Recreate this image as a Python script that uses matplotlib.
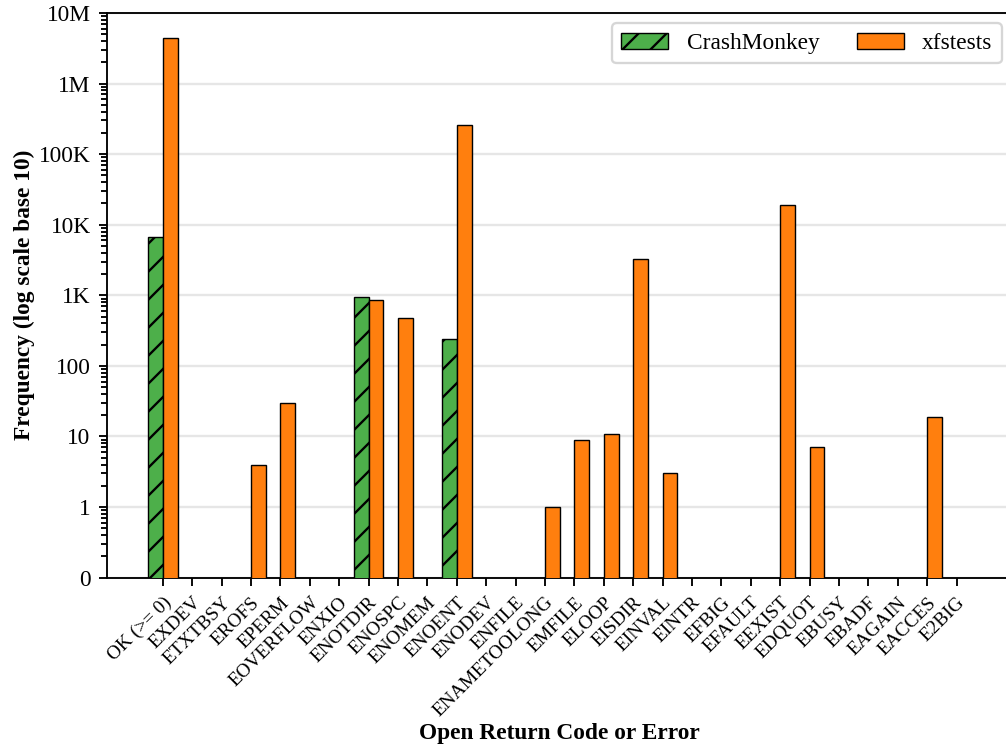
import numpy as np
import matplotlib
matplotlib.use("Agg")
import matplotlib.pyplot as plt
from matplotlib.ticker import FixedLocator, FixedFormatter, LogLocator, NullFormatter

plt.rcParams["font.family"] = ["Liberation Serif", "DejaVu Serif"]
plt.rcParams["hatch.linewidth"] = 1.0

codes = ["OK (>= 0)", "EXDEV", "ETXTBSY", "EROFS", "EPERM", "EOVERFLOW", "ENXIO",
         "ENOTDIR", "ENOSPC", "ENOMEM", "ENOENT", "ENODEV", "ENFILE",
         "ENAMETOOLONG", "EMFILE", "ELOOP", "EISDIR", "EINVAL", "EINTR", "EFBIG",
         "EFAULT", "EEXIST", "EDQUOT", "EBUSY", "EBADF", "EAGAIN", "EACCES", "E2BIG"]

crashmonkey = [6600, 0, 0, 0, 0, 0, 0,
               950, 0, 0, 240, 0, 0,
               0, 0, 0, 0, 0, 0, 0,
               0, 0, 0, 0, 0, 0, 0, 0]

xfstests = [4350000, 0, 0, 4, 30, 0, 0,
            860, 480, 0, 260000, 0, 0,
            1, 9, 11, 3250, 3, 0, 0,
            0, 19000, 7, 0, 0, 0, 19, 0]

# the bottom of the log axis stands in for zero
ytick_vals = [0.1, 1, 10, 100, 1e3, 1e4, 1e5, 1e6, 1e7]
ytick_labels = ["0", "1", "10", "100", "1K", "10K", "100K", "1M", "10M"]

green = "#4daf4a"
orange = "#ff7f0e"

fig = plt.figure(figsize=(1006 / 168, 747 / 168), dpi=168)
ax = fig.add_axes([0.1064, 0.2267, 0.900, 0.756])

x = np.arange(len(codes))
w = 0.5
cm = np.array(crashmonkey, dtype=float)
xf = np.array(xfstests, dtype=float)
cm[cm <= 0] = np.nan
xf[xf <= 0] = np.nan

ax.bar(x - w / 2, cm, w, color=green, edgecolor="black", linewidth=0.6,
       hatch="//", label="CrashMonkey", zorder=3)
ax.bar(x + w / 2, xf, w, color=orange, edgecolor="black", linewidth=0.6,
       label="xfstests", zorder=3)

ax.set_yscale("log")
ax.set_ylim(0.1, 1e7)
ax.yaxis.set_major_locator(FixedLocator(ytick_vals))
ax.yaxis.set_major_formatter(FixedFormatter(ytick_labels))
ax.yaxis.set_minor_locator(LogLocator(base=10, subs=np.arange(2, 10), numticks=100))
ax.yaxis.set_minor_formatter(NullFormatter())
ax.tick_params(axis="y", which="minor", length=2.5, width=0.8)
ax.grid(axis="y", which="major", color="#e6e6e6", linewidth=1.0, zorder=0)

ax.set_xlim(-1.9, 28.9)
ax.set_xticks(x)
ax.set_xticklabels(codes, rotation=45, ha="right", rotation_mode="anchor")
ax.tick_params(axis="x", labelsize=8.3)
ax.tick_params(axis="y", labelsize=10)

ax.set_ylabel("Frequency (log scale base 10)", fontsize=10, fontweight="bold",
              labelpad=1.7)
ax.set_xlabel("Open Return Code or Error", fontsize=10, fontweight="bold")
ax.xaxis.set_label_coords(0.5, -0.257)

ax.legend(loc="upper right", ncol=2, fontsize=10, handlelength=2.0,
          handletextpad=0.8, columnspacing=1.6, borderaxespad=0.45)

fig.savefig("out.png", dpi=168)
